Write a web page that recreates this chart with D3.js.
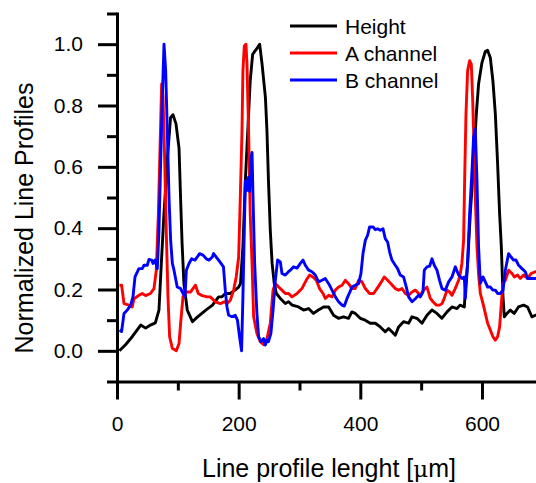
<!DOCTYPE html>
<html>
<head>
<meta charset="utf-8">
<script src="https://cdn.jsdelivr.net/npm/d3@7/dist/d3.min.js"></script>
<style>
  html, body { margin: 0; padding: 0; background: #fff; }
  svg { display: block; font-family: "Liberation Sans", Arial, sans-serif; }
</style>
</head>
<body>
<svg id="chart" width="536" height="483"></svg>
<script>
// Line profiles across the sample: [position (µm), normalized value]
const heightProfile = [
  [4, 0.00], [14, 0.02], [25, 0.046], [39, 0.084], [47, 0.074], [55, 0.084], [63, 0.091],
  [69, 0.133], [73, 0.29], [77, 0.44], [83, 0.63], [88, 0.76], [92, 0.77], [97, 0.74],
  [102, 0.66], [104.5, 0.50], [107, 0.35], [110, 0.22], [115.5, 0.133], [124, 0.095],
  [132, 0.11], [146, 0.133], [157, 0.149], [167, 0.176], [172.6, 0.176], [178, 0.187],
  [186, 0.187], [194, 0.198], [200, 0.208], [203, 0.219], [207, 0.34], [211, 0.555],
  [215, 0.718], [219, 0.88], [223, 0.967], [227, 0.978], [231, 0.989], [234.5, 1.0],
  [238.5, 0.935], [244, 0.826], [246.5, 0.718], [249, 0.555], [252, 0.393], [255, 0.285],
  [258.5, 0.22], [262, 0.187], [268.5, 0.171], [276.7, 0.154], [282, 0.16], [288, 0.149],
  [298.5, 0.143], [306.7, 0.133], [315, 0.138], [323, 0.122], [331, 0.133], [339.6, 0.143],
  [348, 0.143], [356, 0.116], [364, 0.106], [372.5, 0.111], [380.7, 0.106], [386, 0.127],
  [391.7, 0.122], [400, 0.106], [408, 0.10], [416.4, 0.09], [424.6, 0.09], [432.8, 0.078],
  [441, 0.062], [446.5, 0.073], [452, 0.062], [457.5, 0.051], [463, 0.078], [471, 0.095],
  [479.4, 0.09], [485, 0.111], [493, 0.106], [501.4, 0.09], [509.6, 0.116], [517.8, 0.133],
  [526, 0.122], [534, 0.106], [542.5, 0.127], [550.7, 0.143], [559, 0.138], [564, 0.149],
  [571, 0.143], [572.6, 0.198], [576.4, 0.285], [580.8, 0.447], [586.2, 0.61], [590.7, 0.772],
  [594.4, 0.87], [600, 0.94], [605.5, 0.976], [609.2, 0.98], [613.7, 0.956], [618, 0.88],
  [622, 0.772], [625.7, 0.61], [629, 0.447], [631.8, 0.34], [634.6, 0.176], [636.7, 0.111],
  [641, 0.122], [646.6, 0.133], [653, 0.122], [660, 0.143], [668.4, 0.149], [675, 0.143],
  [682, 0.111], [688, 0.116], [700, 0.12]
];

const channelA = [
  [4, 0.214], [7.6, 0.214], [11.5, 0.154], [19.7, 0.149], [25, 0.143], [28, 0.17], [36, 0.181],
  [41.6, 0.187], [47, 0.18], [55, 0.187], [60.8, 0.203], [64.6, 0.263], [68, 0.447],
  [70.7, 0.66], [73.4, 0.87], [75.6, 0.83], [78.3, 0.63], [81, 0.39], [83.8, 0.176],
  [86.5, 0.046], [91, 0.008], [97.5, 0.0], [102, 0.024], [104.6, 0.09], [108.5, 0.176],
  [114, 0.192], [121, 0.192], [129, 0.214], [133.6, 0.187], [140, 0.18], [148.5, 0.176],
  [153.4, 0.176], [161.6, 0.16], [170, 0.154], [176.4, 0.16], [180.8, 0.154], [186.3, 0.165],
  [191.7, 0.198], [196, 0.241], [200, 0.306], [202.7, 0.50], [205.5, 0.718], [207, 0.913],
  [209.3, 0.994], [212, 1.0], [213.7, 0.935], [216.3, 0.718], [219, 0.447], [222, 0.285],
  [224.6, 0.111], [230, 0.057], [235.6, 0.03], [241, 0.02], [246.6, 0.04], [252, 0.09],
  [256.5, 0.198], [260.3, 0.22], [265.7, 0.208], [271.2, 0.198], [276.7, 0.187], [282, 0.187],
  [287.7, 0.176], [296, 0.187], [304, 0.203], [311, 0.23], [316.6, 0.247], [322, 0.241],
  [327.6, 0.23], [333, 0.203], [338.6, 0.187], [342.4, 0.171], [348, 0.181], [353.5, 0.176],
  [359, 0.198], [364.3, 0.208], [370, 0.214], [375.3, 0.23], [380.7, 0.219], [386.3, 0.203],
  [391.7, 0.203], [397.2, 0.23], [402.8, 0.225], [408.2, 0.203], [415.3, 0.187], [421.8, 0.187],
  [427.4, 0.203], [432.8, 0.219], [439.4, 0.241], [444.9, 0.23], [450.4, 0.219], [457.5, 0.203],
  [463, 0.198], [468.5, 0.203], [474, 0.187], [479.4, 0.181], [485, 0.192], [490.4, 0.198],
  [495.8, 0.187], [498.6, 0.181], [504, 0.198], [509.6, 0.208], [515, 0.171], [519.5, 0.16],
  [525, 0.149], [530.3, 0.149], [534.3, 0.154], [538, 0.171], [542.5, 0.198], [546.8, 0.192],
  [550.7, 0.181], [556, 0.203], [561.6, 0.23], [564.4, 0.252], [567, 0.285], [569.8, 0.36],
  [571.5, 0.555], [573.7, 0.772], [576.4, 0.913], [579.7, 0.946], [582.5, 0.935], [584.6, 0.826],
  [586.2, 0.718], [589, 0.50], [591.8, 0.34], [594.4, 0.25], [597.3, 0.187], [601.7, 0.154],
  [605.5, 0.122], [609.3, 0.09], [613.7, 0.068], [618, 0.046], [621.9, 0.035], [625.7, 0.046],
  [629, 0.078], [631.8, 0.154], [634.6, 0.22], [638.4, 0.23], [643.8, 0.263], [649.4, 0.252],
  [653.2, 0.241], [658.6, 0.247], [663, 0.236], [668.4, 0.247], [675, 0.236], [680.6, 0.252],
  [687.7, 0.258], [700, 0.26]
];

const channelB = [
  [4.3, 0.068], [7.6, 0.063], [11.5, 0.122], [17, 0.133], [22.4, 0.149], [26.3, 0.176],
  [29.6, 0.241], [36, 0.268], [41.6, 0.268], [44.4, 0.279], [49.8, 0.279], [52.6, 0.298],
  [56.9, 0.296], [59.2, 0.285], [62.5, 0.296], [66.3, 0.268], [69, 0.393], [71.7, 0.61],
  [74.5, 0.826], [77.3, 1.0], [80, 0.913], [82.7, 0.718], [85.5, 0.50], [88.2, 0.36],
  [91, 0.285], [93.7, 0.263], [99, 0.208], [104.6, 0.203], [108.5, 0.187], [111.8, 0.176],
  [114, 0.263], [118.4, 0.285], [122.7, 0.30], [128.2, 0.296], [132, 0.306], [135.8, 0.317],
  [141.4, 0.312], [146.8, 0.30], [151.2, 0.296], [156.7, 0.306], [158.8, 0.317], [163, 0.306],
  [167, 0.296], [171, 0.285], [175, 0.274], [178, 0.198], [180.8, 0.143], [183.5, 0.116],
  [189, 0.111], [194.4, 0.116], [198, 0.10], [201.5, 0.046], [204.8, 0.0], [207, 0.176],
  [209.3, 0.393], [211, 0.555], [213.7, 0.523], [216.3, 0.566], [218, 0.52], [220.3, 0.63],
  [222, 0.647], [223.6, 0.50], [226.3, 0.285], [230, 0.122], [232.8, 0.046], [236.7, 0.03],
  [241, 0.04], [243.8, 0.019], [246.6, 0.035], [249, 0.03], [253, 0.057], [256.5, 0.133],
  [260.3, 0.23], [264, 0.296], [268.5, 0.29], [271.2, 0.252], [276.7, 0.247], [282, 0.258],
  [285, 0.263], [290.3, 0.274], [296, 0.27], [301.4, 0.285], [305.8, 0.296], [309.6, 0.279],
  [315, 0.263], [320.6, 0.258], [326, 0.247], [331.4, 0.225], [337, 0.23], [342.4, 0.236],
  [348, 0.219], [353.5, 0.198], [359, 0.176], [364.3, 0.16], [370, 0.149], [373.7, 0.146],
  [378, 0.17], [382.4, 0.19], [386.3, 0.208], [391.7, 0.214], [397.2, 0.219], [401, 0.252],
  [404.4, 0.317], [408.2, 0.36], [412, 0.377], [415.3, 0.404], [420.9, 0.404], [424.6, 0.395],
  [428.4, 0.398], [432.8, 0.393], [437.3, 0.398], [441, 0.366], [444.9, 0.355], [448.2, 0.322],
  [452, 0.296], [457.5, 0.279], [461.3, 0.268], [465.7, 0.247], [471.1, 0.241], [475.6, 0.208],
  [479.4, 0.176], [485, 0.16], [490.4, 0.17], [495.8, 0.181], [498.6, 0.176], [503, 0.192],
  [505.2, 0.263], [509.6, 0.274], [513.9, 0.276], [517.8, 0.30], [521.6, 0.279], [526, 0.263],
  [530.3, 0.23], [534.3, 0.203], [539.7, 0.198], [545.2, 0.225], [550.7, 0.241], [556.2, 0.274],
  [561.6, 0.247], [567.2, 0.236], [571, 0.241], [572.6, 0.171], [576.4, 0.285], [579.7, 0.447],
  [583.6, 0.588], [586.2, 0.696], [589, 0.724], [591.8, 0.555], [594.4, 0.34], [597.3, 0.22],
  [601.7, 0.241], [605.5, 0.225], [609.3, 0.208], [613.7, 0.208], [618, 0.198], [622, 0.198],
  [625.7, 0.187], [630.2, 0.187], [634.6, 0.198], [638.4, 0.263], [643.8, 0.317], [647.8, 0.306],
  [652, 0.296], [656, 0.296], [660.2, 0.279], [665.8, 0.268], [671.2, 0.258], [675, 0.236],
  [680.6, 0.236], [687.7, 0.236], [700, 0.236]
];

const seriesNames = ["Height", "A channel", "B channel"];
const seriesColors = ["#000000", "#ff0000", "#0000ff"];

const xMajorTicks = [0, 200, 400, 600];
const xMinorTicks = [100, 300, 500, 700];
const yMajorTicks = [0.0, 0.2, 0.4, 0.6, 0.8, 1.0];
const yMinorTicks = [-0.1, 0.1, 0.3, 0.5, 0.7, 0.9, 1.1];

const xTitle = "Line profile lenght [";
const yTitle = "Normalized Line Profiles";

const svg = d3.select("#chart");
const W = 536, H = 483;
svg.append("rect").attr("width", W).attr("height", H).attr("fill", "#fff");

const x = d3.scaleLinear().domain([0, 700]).range([117, 542.8]);
const y = d3.scaleLinear().domain([-0.1, 1.1]).range([381.5, 13.5]);

// profile lines: height first, then the two channels on top
const line = d3.line().x(d => x(d[0])).y(d => y(d[1]));
[heightProfile, channelA, channelB].forEach((data, i) => {
  svg.append("path")
    .datum(data)
    .attr("d", line)
    .attr("fill", "none")
    .attr("stroke", seriesColors[i])
    .attr("stroke-width", 2.9)
    .attr("stroke-linejoin", "round");
});

// axes
const axisStroke = 3;
function styleAxis(g) {
  g.selectAll("path.domain").attr("stroke", "#000").attr("stroke-width", axisStroke);
  g.selectAll(".tick line").attr("stroke", "#000").attr("stroke-width", axisStroke);
  g.selectAll(".tick text").attr("fill", "#000").attr("font-size", 21)
    .attr("font-family", "'Liberation Sans', Arial, sans-serif");
}

const gx = svg.append("g").attr("transform", `translate(0,${y(-0.1)})`);
gx.call(d3.axisBottom(x).tickValues(xMinorTicks).tickSize(9).tickSizeOuter(0).tickFormat(""))
  .call(styleAxis);
const gx2 = svg.append("g").attr("transform", `translate(0,${y(-0.1)})`);
gx2.call(d3.axisBottom(x).tickValues(xMajorTicks).tickSize(18).tickSizeOuter(0)
    .tickPadding(16.5).tickFormat(d3.format("d")))
  .call(styleAxis);
gx2.select("path.domain").remove();

const gy = svg.append("g").attr("transform", `translate(${x(0)},0)`);
gy.call(d3.axisLeft(y).tickValues(yMinorTicks).tickSize(10).tickSizeOuter(0).tickFormat(""))
  .call(styleAxis);
const gy2 = svg.append("g").attr("transform", `translate(${x(0)},0)`);
gy2.call(d3.axisLeft(y).tickValues(yMajorTicks).tickSize(19).tickSizeOuter(0)
    .tickPadding(15).tickFormat(d3.format(".1f")))
  .call(styleAxis);
gy2.select("path.domain").remove();
svg.selectAll("path.domain").attr("stroke-linecap", "square");

// axis titles
const xt = svg.append("text")
  .attr("x", 329).attr("y", 477)
  .attr("text-anchor", "middle")
  .attr("font-size", 25)
  .attr("fill", "#000");
xt.append("tspan").text(xTitle);
xt.append("tspan").attr("font-family", "'DejaVu Serif', serif")
  .attr("font-size", 23).text("\u03bc");
xt.append("tspan").text("m]");

svg.append("text")
  .attr("transform", "translate(33,218) rotate(-90)")
  .attr("text-anchor", "middle")
  .attr("font-size", 25)
  .attr("fill", "#000")
  .text(yTitle);

// legend
const legend = svg.append("g");
seriesNames.forEach((name, i) => {
  const ly = 26 + i * 27;
  legend.append("line")
    .attr("x1", 290).attr("x2", 337).attr("y1", ly).attr("y2", ly)
    .attr("stroke", seriesColors[i]).attr("stroke-width", 3);
  legend.append("text")
    .attr("x", 345).attr("y", ly + 7.6)
    .attr("font-size", 21).attr("fill", "#000")
    .text(name);
});
</script>
</body>
</html>
